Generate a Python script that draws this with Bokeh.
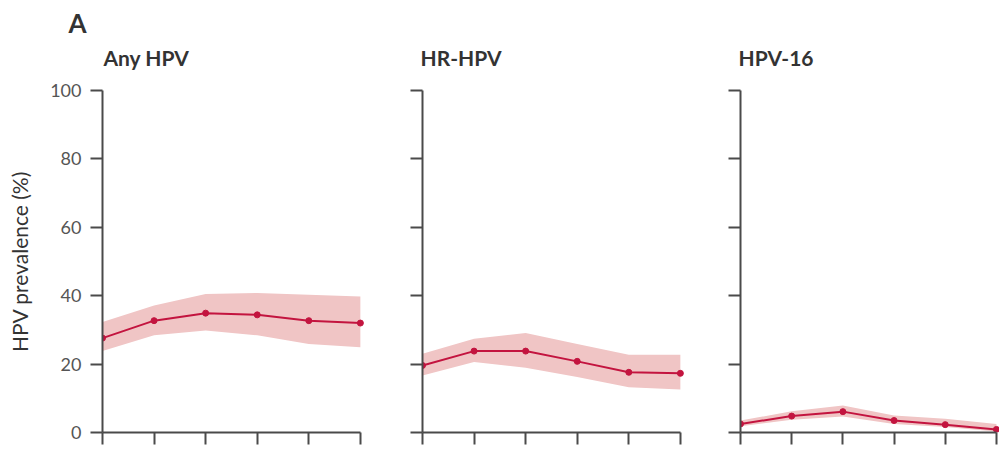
from bokeh.plotting import figure
from bokeh.layouts import row
from bokeh.models import FixedTicker, Title, Range1d
from bokeh.embed import file_html
from bokeh.resources import INLINE

# x positions (age groups, unlabeled in the reference)
age_groups = [0, 1, 2, 3, 4, 5]
y_ticks = [0, 20, 40, 60, 80, 100]

panel_titles = ["Any HPV", "HR-HPV", "HPV-16"]

any_hpv = [27.6, 32.7, 34.9, 34.4, 32.7, 32.0]
any_lo = [23.8, 28.4, 29.8, 28.4, 25.9, 24.9]
any_hi = [32.3, 37.1, 40.5, 40.8, 40.3, 39.8]

hr_hpv = [19.6, 23.8, 23.8, 20.8, 17.6, 17.3]
hr_lo = [16.7, 20.6, 18.9, 16.2, 13.2, 12.6]
hr_hi = [23.0, 27.4, 29.1, 25.9, 22.7, 22.7]

hpv16 = [2.5, 4.8, 6.1, 3.5, 2.3, 0.9]
hpv16_lo = [1.8, 3.7, 4.7, 2.5, 1.6, 0.3]
hpv16_hi = [3.5, 6.2, 7.9, 5.0, 4.0, 2.5]

series = [(any_hpv, any_lo, any_hi), (hr_hpv, hr_lo, hr_hi), (hpv16, hpv16_lo, hpv16_hi)]

LINE = "#c3143f"
BAND = "#f0c5c5"
AXIS = "#4a4a4a"
FONT = "Lato"

# layout: (width, min_border_left, min_border_right, x_end)
layouts = [(382, 102, 18, 5.08), (318, 40, 16, 5.08), (299, 40, 0, 5.06)]

def make_title(text, size, offset, standoff, color="#333333"):
    return Title(text=text, text_font=FONT, text_font_size=size,
                 text_font_style="bold", text_color=color,
                 align="left", offset=offset, standoff=standoff)

figs = []
for i, ((vals, lo, hi), title, (w, bl, br, xend)) in enumerate(zip(series, panel_titles, layouts)):
    p = figure(width=w, height=450, output_backend="svg", toolbar_location=None,
               x_range=Range1d(0, xend), y_range=Range1d(0, 100),
               min_border_left=bl, min_border_right=br, min_border_top=90, min_border_bottom=18)
    p.outline_line_color = None
    p.grid.visible = False
    p.background_fill_color = "white"

    p.varea(x=age_groups, y1=lo, y2=hi, fill_color=BAND, fill_alpha=1.0)
    p.line(x=age_groups, y=vals, line_color=LINE, line_width=2)
    p.scatter(x=age_groups, y=vals, size=6, fill_color=LINE, line_color=LINE)

    if i == 0:
        # stacking from the frame outward: blank spacer, panel title, panel letter
        p.title = make_title("A", "26px", -34, 7)
        p.add_layout(Title(text=" ", text_font=FONT, text_font_size="16px",
                           text_color="white", standoff=0), "above")
        p.add_layout(make_title(title, "21px", 1, 0), "above")
    else:
        p.title = make_title(title, "21px", -2, 41)

    for ax in (p.xaxis[0], p.yaxis[0]):
        ax.axis_line_color = AXIS
        ax.axis_line_width = 2
        ax.major_tick_line_color = AXIS
        ax.major_tick_line_width = 2
        ax.major_tick_in = 0
        ax.minor_tick_line_color = None

    xa = p.xaxis[0]
    xa.ticker = FixedTicker(ticks=age_groups)
    xa.bounds = (0, 5)
    xa.major_tick_out = 12
    xa.major_label_overrides = {k: "" for k in age_groups}
    xa.major_label_text_font_size = "1px"
    xa.major_label_standoff = 0

    ya = p.yaxis[0]
    ya.ticker = FixedTicker(ticks=y_ticks)
    ya.major_tick_out = 12
    ya.major_label_text_font = FONT
    ya.major_label_text_font_size = "18px"
    ya.major_label_text_color = "#555555"
    ya.major_label_standoff = 9
    if i == 0:
        ya.axis_label = "HPV prevalence (%)"
        ya.axis_label_text_font = FONT
        ya.axis_label_text_font_size = "21px"
        ya.axis_label_text_font_style = "normal"
        ya.axis_label_text_color = "#333333"
        ya.axis_label_standoff = 15
    else:
        ya.major_label_text_color = None
    figs.append(p)

layout = row(*figs, spacing=0)
open("out.html", "w").write(file_html(layout, INLINE))
